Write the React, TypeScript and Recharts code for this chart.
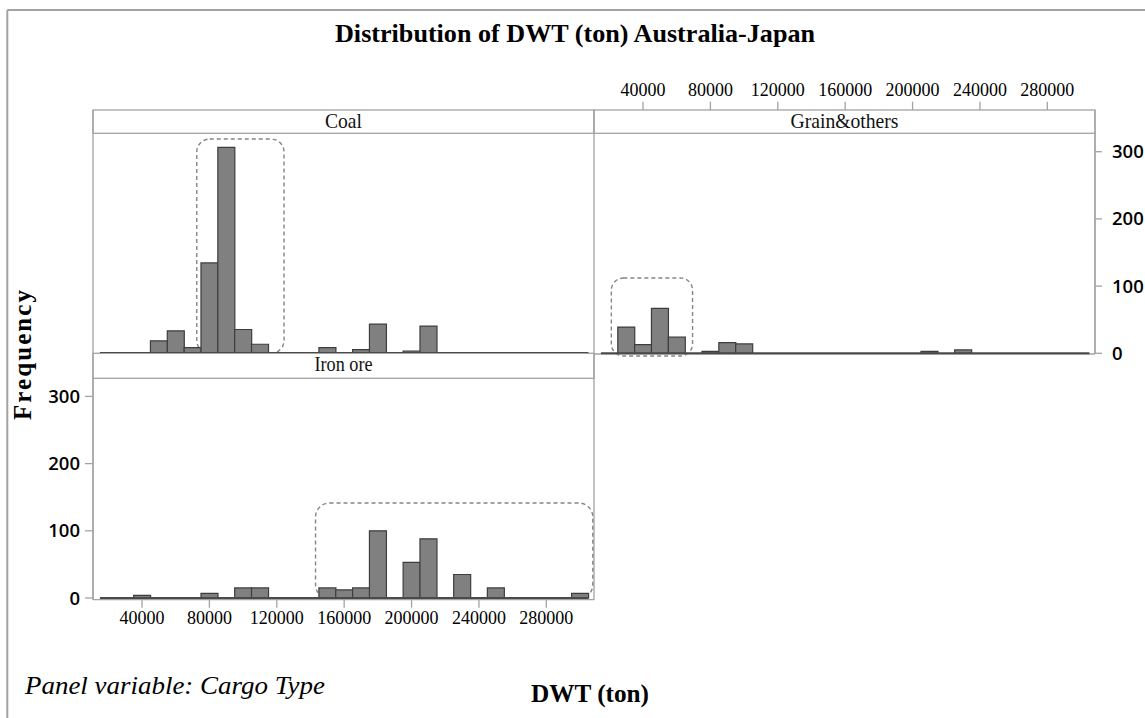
import React from 'react';
import { BarChart, Bar, XAxis, YAxis, ReferenceLine, ReferenceArea } from 'recharts';

// ---- data ----
const binCenters = [
  20000, 30000, 40000, 50000, 60000, 70000, 80000, 90000, 100000, 110000,
  120000, 130000, 140000, 150000, 160000, 170000, 180000, 190000, 200000, 210000,
  220000, 230000, 240000, 250000, 260000, 270000, 280000, 290000, 300000,
];
const binWidth = 10000;
const coalCounts = [0, 0, 0, 18, 33, 8, 134, 306, 35, 13, 0, 0, 0, 8, 0, 5, 43, 0, 3, 40, 0, 0, 0, 0, 0, 0, 0, 0, 0];
const grainCounts = [0, 39, 13, 67, 24, 0, 3, 16, 14, 0, 0, 0, 0, 0, 0, 0, 0, 0, 0, 3, 0, 5, 0, 0, 0, 0, 0, 0, 0];
const ironCounts = [0, 0, 4, 0, 0, 0, 7, 0, 15, 15, 0, 0, 0, 15, 12, 15, 100, 0, 53, 88, 0, 35, 0, 15, 0, 0, 0, 0, 7];
const xTicks = [40000, 80000, 120000, 160000, 200000, 240000, 280000];
const yTicks = [0, 100, 200, 300];
const panelNames = ['Coal', 'Grain&others', 'Iron ore'];
const xDomain = [10900, 308300];
const yMax = 327.4;
// highlighted regions [x1, x2, yTop, yBottom]
const coalBox = [72500, 124300, 318.5, -0.5];
const grainBox = [21200, 69400, 112, -4];
const ironBox = [143000, 307600, 141.4, -1];

const toRows = (counts: number[]) => binCenters.map((b, i) => ({ bin: b, count: counts[i] }));
const coalData = toRows(coalCounts);
const grainData = toRows(grainCounts);
const ironData = toRows(ironCounts);
const baseStart = binCenters[0] - binWidth / 2;
const baseEnd = binCenters[binCenters.length - 1] + binWidth / 2;

const GRID = '#a3a3a3';
const BAR_FILL = '#808080';
const BAR_STROKE = '#3d3d3d';
const SERIF = '"Liberation Serif", "Times New Roman", serif';
const SANS = '"Open Sans", "Noto Sans", sans-serif';

const makeBox = (r: number) => (p: any) => (
  <rect x={p.x} y={p.y} width={p.width} height={p.height} rx={r} ry={r}
    fill="none" stroke="#858585" strokeWidth={1.4} strokeDasharray="4 3" />
);

const TopTick = (props: any) => {
  const { x, payload } = props;
  return (
    <g>
      <line x1={x} x2={x} y1={31.7} y2={40} stroke={GRID} strokeWidth={1.3} />
      <text x={x} y={25.7} textAnchor="middle" fill="#000" fontSize={18} fontFamily={SERIF}>
        {payload.value}
      </text>
    </g>
  );
};

const baseline = (
  <ReferenceLine
    segment={[{ x: baseStart, y: 0 }, { x: baseEnd, y: 0 }]}
    stroke="#4a4a4a" strokeWidth={2} ifOverflow="visible"
  />
);

export default function App() {
  return (
    <div style={{ position: 'absolute', left: 0, top: 0, width: 1145, height: 718, background: '#fff', overflow: 'hidden' }}>
      <svg width={1145} height={718} style={{ position: 'absolute', left: 0, top: 0 }}>
        {/* outer frame */}
        <line x1={7.3} y1={10} x2={1145} y2={10} stroke={GRID} strokeWidth={2} />
        <line x1={7.3} y1={10} x2={7.3} y2={718} stroke={GRID} strokeWidth={2} />
        {/* strips */}
        <rect x={93} y={110} width={501} height={23.3} fill="#fff" stroke={GRID} strokeWidth={1.3} />
        <rect x={594} y={110} width={501} height={23.3} fill="#fff" stroke={GRID} strokeWidth={1.3} />
        <rect x={93} y={353.3} width={501} height={25} fill="#fff" stroke={GRID} strokeWidth={1.3} />
        {/* panel borders */}
        <line x1={93} y1={110} x2={93} y2={600} stroke={GRID} strokeWidth={1.3} />
        <line x1={594} y1={110} x2={594} y2={600} stroke={GRID} strokeWidth={1.3} />
        <line x1={1095} y1={110} x2={1095} y2={354} stroke={GRID} strokeWidth={1.3} />
        <line x1={594} y1={354} x2={1095} y2={354} stroke={GRID} strokeWidth={1.3} />
        {/* strip labels */}
        <text x={343.5} y={127.5} textAnchor="middle" fontSize={21} fontFamily={SERIF} fill="#111" textLength={37} lengthAdjust="spacingAndGlyphs">{panelNames[0]}</text>
        <text x={844.5} y={127.5} textAnchor="middle" fontSize={21} fontFamily={SERIF} fill="#111" textLength={108} lengthAdjust="spacingAndGlyphs">{panelNames[1]}</text>
        <text x={343.5} y={371} textAnchor="middle" fontSize={21} fontFamily={SERIF} fill="#111" textLength={58} lengthAdjust="spacingAndGlyphs">{panelNames[2]}</text>
        {/* titles */}
        <text x={575} y={42} textAnchor="middle" fontSize={26} fontWeight="bold" fontFamily={SERIF} fill="#000" textLength={480} lengthAdjust="spacingAndGlyphs">
          Distribution of DWT (ton) Australia-Japan
        </text>
        <text x={31} y={355} transform="rotate(-90 31 355)" textAnchor="middle" fontSize={25} fontWeight="bold" fontFamily={SERIF} fill="#000" textLength={130} lengthAdjust="spacing">
          Frequency
        </text>
        <text x={590} y={702} textAnchor="middle" fontSize={26} fontWeight="bold" fontFamily={SERIF} fill="#000" textLength={118} lengthAdjust="spacingAndGlyphs">
          DWT (ton)
        </text>
        <text x={25} y={694} fontSize={25} fontStyle="italic" fontFamily={SERIF} fill="#000" textLength={300} lengthAdjust="spacingAndGlyphs">
          Panel variable: Cargo Type
        </text>
      </svg>

      {/* Coal */}
      <div style={{ position: 'absolute', left: 93, top: 133.3 }}>
        <BarChart width={501} height={220} data={coalData} margin={{ top: 0, right: 0, bottom: 0, left: 0 }} barCategoryGap={0} barGap={0}>
          <XAxis type="number" dataKey="bin" domain={xDomain} allowDataOverflow hide ticks={xTicks} />
          <YAxis type="number" domain={[0, yMax]} allowDataOverflow hide ticks={yTicks} />
          {baseline}
          <Bar dataKey="count" fill={BAR_FILL} stroke={BAR_STROKE} strokeWidth={1.2} isAnimationActive={false} />
          <ReferenceArea x1={coalBox[0]} x2={coalBox[1]} y1={coalBox[3]} y2={coalBox[2]} ifOverflow="visible" shape={makeBox(13)} />
        </BarChart>
      </div>

      {/* Grain & others */}
      <div style={{ position: 'absolute', left: 594, top: 70 }}>
        <BarChart width={551} height={303.3} data={grainData} margin={{ top: 0, right: 0, bottom: 20, left: 0 }} barCategoryGap={0} barGap={0}>
          <XAxis type="number" dataKey="bin" domain={xDomain} allowDataOverflow orientation="top" height={63.3}
            ticks={xTicks} tickLine={false} axisLine={false} tick={<TopTick />} interval={0} />
          <YAxis type="number" domain={[0, yMax]} allowDataOverflow orientation="right" width={50} ticks={yTicks}
            tickSize={7} tickMargin={10} axisLine={{ stroke: GRID, strokeWidth: 1.3 }} tickLine={{ stroke: GRID, strokeWidth: 1.3 }}
            tick={{ fill: '#000', fontSize: 18.5, fontFamily: SANS, fontWeight: 600 }} interval={0} />
          {baseline}
          <Bar dataKey="count" fill={BAR_FILL} stroke={BAR_STROKE} strokeWidth={1.2} isAnimationActive={false} />
          <ReferenceArea x1={grainBox[0]} x2={grainBox[1]} y1={grainBox[3]} y2={grainBox[2]} ifOverflow="visible" shape={makeBox(12)} />
        </BarChart>
      </div>

      {/* Iron ore */}
      <div style={{ position: 'absolute', left: 0, top: 378.3 }}>
        <BarChart width={594} height={261.7} data={ironData} margin={{ top: 0, right: 0, bottom: 0, left: 0 }} barCategoryGap={0} barGap={0}>
          <XAxis type="number" dataKey="bin" domain={xDomain} allowDataOverflow height={40} ticks={xTicks}
            tickSize={8} tickMargin={4} axisLine={{ stroke: GRID, strokeWidth: 1.3 }} tickLine={{ stroke: GRID, strokeWidth: 1.3 }}
            tick={{ fill: '#000', fontSize: 18, fontFamily: SERIF }} interval={0} />
          <YAxis type="number" domain={[-2.5, yMax]} allowDataOverflow width={93} ticks={yTicks}
            tickSize={8} tickMargin={5} axisLine={{ stroke: GRID, strokeWidth: 1.3 }} tickLine={{ stroke: GRID, strokeWidth: 1.3 }}
            tick={{ fill: '#000', fontSize: 18.5, fontFamily: SANS, fontWeight: 600 }} interval={0} />
          {baseline}
          <Bar dataKey="count" fill={BAR_FILL} stroke={BAR_STROKE} strokeWidth={1.2} isAnimationActive={false} />
          <ReferenceArea x1={ironBox[0]} x2={ironBox[1]} y1={ironBox[3]} y2={ironBox[2]} ifOverflow="visible" shape={makeBox(14)} />
        </BarChart>
      </div>
    </div>
  );
}
